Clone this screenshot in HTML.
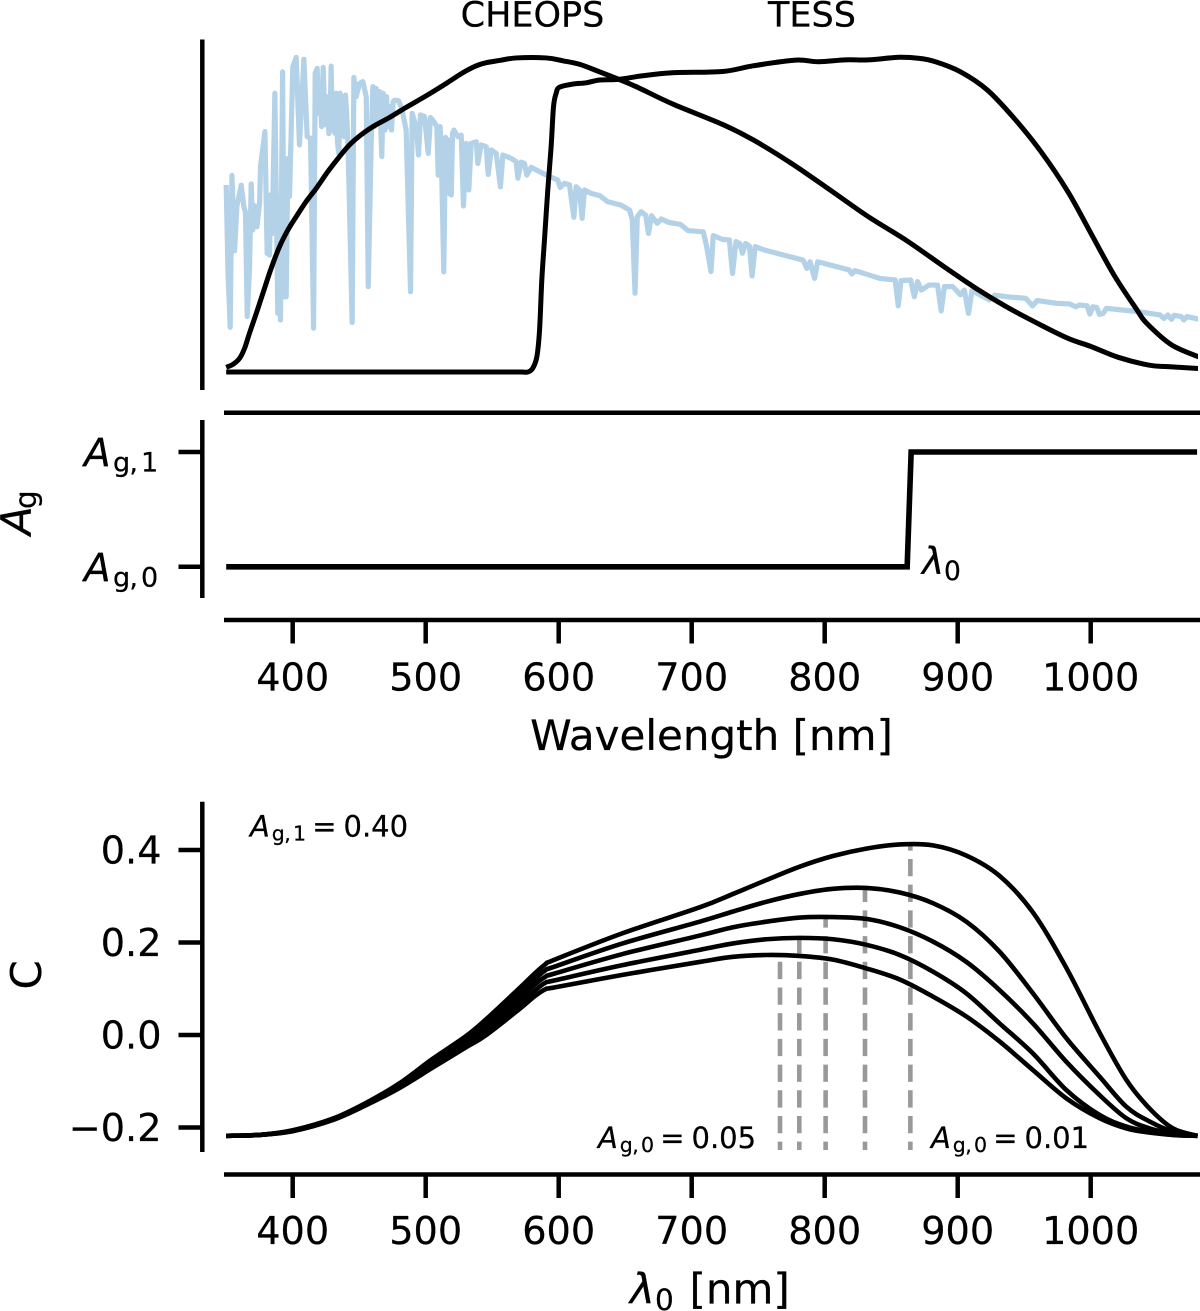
<!DOCTYPE html>
<html lang="en">
<head>
<meta charset="utf-8">
<title>Stellar spectrum, passbands and geometric albedo contrast</title>
<style>
html,body{margin:0;padding:0;background:#fff;}
svg{display:block;font-family:"DejaVu Sans","Liberation Sans",sans-serif;fill:#000;}
svg text{stroke:#000;stroke-width:.25;}
.spine{stroke:#000;stroke-width:4.5;fill:none;}
.i{font-style:italic;}
</style>
</head>
<body>
<svg id="figure" xmlns="http://www.w3.org/2000/svg" width="1200" height="1311" viewBox="0 0 1200 1311">
<defs><clipPath id="plot-clip"><rect x="222" y="0" width="976" height="1311"/></clipPath></defs>
<rect x="0" y="0" width="1200" height="1311" fill="#fff"/>

<g id="panel-top">
  <line class="spine" x1="202.3" y1="39.5" x2="202.3" y2="390"/>
  <line class="spine" x1="224" y1="412.8" x2="1200" y2="412.8"/>
  <g id="spectrum-marks" clip-path="url(#plot-clip)"></g>
  <text x="532.5" y="26.7" font-size="35" text-anchor="middle">CHEOPS</text>
  <text x="812" y="26.7" font-size="35" text-anchor="middle">TESS</text>
</g>

<g id="panel-mid">
  <line class="spine" x1="202.3" y1="420" x2="202.3" y2="598"/>
  <line class="spine" x1="224" y1="620" x2="1200" y2="620"/>
  <line class="spine" x1="178.5" y1="452" x2="202" y2="452"/>
  <line class="spine" x1="178.5" y1="566.8" x2="202" y2="566.8"/>
  <text font-size="39" y="466.5"><tspan class="i" x="84">A</tspan><tspan x="113" y="471.5" font-size="27">g</tspan><tspan x="129.4" y="471.5" font-size="27">,</tspan><tspan x="141" y="471.5" font-size="27">1</tspan></text>
  <text font-size="39" y="581.5"><tspan class="i" x="84">A</tspan><tspan x="113" y="586.5" font-size="27">g</tspan><tspan x="129.4" y="586.5" font-size="27">,</tspan><tspan x="141" y="586.5" font-size="27">0</tspan></text>
  <text transform="translate(31,535) rotate(-90)" font-size="42"><tspan class="i" x="0" y="0">A</tspan><tspan x="26" y="5" font-size="29.5">g</tspan></text>
  <g id="albedo-marks" clip-path="url(#plot-clip)"></g>
  <g id="mid-x-ticks"></g>
  <text font-size="37.5" y="574"><tspan class="i" x="922">λ</tspan><tspan x="944" y="580" font-size="26.5">0</tspan></text>
  <text x="711.5" y="750" font-size="42" text-anchor="middle">Wavelength [nm]</text>
</g>

<g id="panel-bottom">
  <line class="spine" x1="202.3" y1="801.7" x2="202.3" y2="1152"/>
  <line class="spine" x1="224" y1="1174.5" x2="1200" y2="1174.5"/>
  <g id="contrast-marks" clip-path="url(#plot-clip)"></g>
  <g id="bottom-x-ticks"></g>
  <g id="bottom-y-ticks"></g>
  <text transform="translate(41,989.5) rotate(-90)" font-size="42">C</text>
  <text font-size="42" y="1303.3"><tspan class="i" x="630">λ</tspan><tspan x="655" y="1310" font-size="29.5">0</tspan><tspan x="689.5" y="1303.3">[nm]</tspan></text>
  <text font-size="29" y="836.5"><tspan class="i" x="250">A</tspan><tspan x="271.8" y="840.5" font-size="20.5">g</tspan><tspan x="284.2" y="840.5" font-size="20.5">,</tspan><tspan x="293" y="840.5" font-size="20.5">1</tspan><tspan x="312.2" y="836.5">=</tspan><tspan x="343.5" y="836.5">0.40</tspan></text>
  <text font-size="29" y="1148"><tspan class="i" x="598">A</tspan><tspan x="619.8" y="1152" font-size="20.5">g</tspan><tspan x="632.2" y="1152" font-size="20.5">,</tspan><tspan x="641" y="1152" font-size="20.5">0</tspan><tspan x="660.2" y="1148">=</tspan><tspan x="691.5" y="1148">0.05</tspan></text>
  <text font-size="29" y="1148"><tspan class="i" x="931">A</tspan><tspan x="952.8" y="1152" font-size="20.5">g</tspan><tspan x="965.2" y="1152" font-size="20.5">,</tspan><tspan x="974" y="1152" font-size="20.5">0</tspan><tspan x="993.2" y="1148">=</tspan><tspan x="1024.5" y="1148">0.01</tspan></text>
</g>
</svg>

<script>
// ---- data ----
const xTickValues = [400, 500, 600, 700, 800, 900, 1000];
const xTickLabels = ['400', '500', '600', '700', '800', '900', '1000'];
const yTickValues = [0.4, 0.2, 0.0, -0.2];
const yTickLabels = ['0.4', '0.2', '0.0', '\u22120.2'];

const spectrumWavelength = [350,351.3,353,354.3,355.5,356.3,358,361.3,363.3,364.5,365.8,367.5,368.8,370,371.3,373.1,375.1,375.8,379.1,380.8,382.6,383.3,384.6,386.6,388.1,388.8,390.1,390.8,392.4,393.6,395.1,396.4,397.6,400.1,402.6,405.1,408.4,410.9,413.4,415.7,416.9,418.4,419.4,420.7,421.7,422.9,424.2,425.2,426.2,427.2,428.2,428.9,429.9,430.7,431.7,432.7,433.7,434.7,435.7,436.7,437.7,438.7,439.7,440.7,441.7,444.7,446,447.7,450.2,452.7,455.3,456.8,459,460.3,461.5,462.8,464,465.3,466.3,467,468,469.3,470.5,471.8,473,474.3,475.5,476.6,479.6,482.3,485.3,488.6,489.8,492.8,494.6,496.1,499.1,501.9,503.6,506.1,508.4,509.4,510.9,512.1,513.6,514.9,515.9,516.9,517.9,519.2,520.2,521.2,524.2,526.7,528.4,530.4,532.4,534.2,538,539.2,541.7,545.5,547,549.2,553,556.2,558,564.3,568,569.3,571.8,574.3,576,579.3,585.6,591.8,599.3,601.1,604.4,608.1,611.4,613.1,615.6,617.6,619.4,624.4,630.8,636.6,646.7,653.3,655.3,657.4,659.1,662,665.4,667.5,669.8,674.1,677,682.7,691.4,697.2,708.7,711,714.5,716.2,723.2,728.3,730.7,733.3,736.1,738.2,740.5,743.4,745.4,747.7,754.9,772.2,783.8,786.6,789,792.4,794.7,818.4,820.4,822.7,841.5,853,855.3,857.4,864.6,867.4,869.8,872.6,878.4,884.8,887.6,890,896.3,902.1,905,908.1,910.7,923.7,928.1,936.7,951.1,956.3,959.8,974.2,984.3,988.7,991.6,997.3,999.4,1001.7,1004.5,1006.6,1009.4,1011.8,1034.8,1052.2,1055,1058,1060.8,1062.8,1068,1070,1072.4,1081.9];
const spectrumFlux = [.594,.324,.142,.624,.493,.385,.525,.593,.525,.506,.176,.324,.597,.451,.528,.461,.535,.652,.763,.377,.371,.562,.440,.885,.408,.186,.546,.165,.953,.239,.239,.678,.557,.969,.999,.721,.993,.747,.742,.139,.948,.964,.821,.900,.779,.967,.800,.784,.874,.757,.821,.971,.768,.864,.758,.885,.726,.694,.885,.768,.874,.747,.879,.810,.705,.157,.935,.874,.916,.922,.874,.271,.726,.906,.779,.900,.789,.890,.768,.684,.885,.768,.874,.779,.842,.768,.858,.863,.861,.832,.768,.255,.821,.779,.689,.816,.811,.694,.808,.795,.779,.625,.779,.620,.318,.745,.588,.737,.567,.562,.758,.768,.747,.752,.527,.726,.578,.726,.731,.662,.721,.715,.627,.705,.694,.588,.689,.678,.668,.615,.666,.662,.625,.650,.636,.623,.609,.586,.599,.594,.491,.588,.578,.488,.578,.567,.560,.541,.530,.514,.483,.250,.493,.509,.498,.440,.496,.472,.486,.475,.469,.449,.445,.403,.319,.433,.421,.419,.313,.414,.408,.377,.408,.400,.305,.398,.387,.368,.355,.329,.350,.297,.350,.324,.311,.322,.297,.292,.210,.290,.292,.239,.287,.260,.276,.276,.194,.271,.271,.245,.260,.186,.258,.229,.244,.239,.234,.210,.227,.218,.216,.207,.213,.210,.184,.207,.205,.183,.186,.202,.192,.181,.170,.181,.167,.180,.176,.165,.176,.167];

const cheopsWavelength = [350,355,360,363.8,367.5,372.6,377.6,383.8,390.1,396.4,402.6,410.1,417.7,426.4,435.2,442.7,450.2,460.3,472.8,485.3,500.4,515.4,527.9,538,545.5,555.5,568,590.6,603.1,615.6,630.7,645.2,659.7,685.6,723.2,746.2,775.1,804,832.8,861.7,890.5,913.6,936.7,959.8,982.9,1000.2,1020.4,1043.5,1057.9,1081.9];
const cheopsThroughput = [.015,.024,.043,.075,.123,.186,.250,.329,.398,.451,.493,.541,.583,.636,.684,.721,.749,.779,.808,.840,.877,.916,.950,.972,.982,.989,.997,.997,.988,.977,.953,.929,.903,.851,.786,.737,.662,.578,.493,.417,.332,.266,.207,.155,.107,.081,.047,.022,.017,.011];

const tessWavelength = [350,450,520,550,565,572,576.8,580.5,583.6,585.6,587.3,589.3,591.8,594.3,596.1,598.1,600.6,610.6,620.7,630.7,645.2,662.5,685.6,723.2,746.2,778,795.3,815.5,832.8,855.9,870.3,883.3,902.1,922.3,942.5,962.7,982.9,1000.2,1017.5,1034.8,1042,1060.8,1081.9];
const tessThroughput = [0,0,0,0,0,0,0,.012,.049,.133,.292,.419,.578,.715,.842,.885,.904,.914,.918,.927,.929,.940,.950,.954,.972,.990,.985,.991,.991,.999,.996,.985,.953,.895,.805,.699,.572,.440,.308,.197,.155,.086,.047];

const albedoWavelength = [350, 862, 865, 1080];
const albedoLevel = [0, 0, 1, 1];

const contrastWavelength = [350,375,400,430,455,480,505,530,545,570,582,590,597,648,706,731.1,756.1,781.2,806.2,831.3,856.4,881.4,906.5,931.5,956.6,981.7,1006.7,1026.8,1044.3,1061.9,1080.4];
const contrastLow01 = [-.218,-.216,-.206,-.181,-.147,-.105,-.052,-.003,.033,.100,.133,.153,.163,.220,.276,.305,.335,.364,.387,.403,.412,.410,.388,.344,.265,.145,.005,-.097,-.159,-.202,-.218];
const contrastLow02 = [-.218,-.216,-.207,-.182,-.148,-.108,-.057,-.010,.024,.089,.121,.140,.148,.198,.245,.267,.288,.305,.316,.318,.308,.285,.245,.180,.090,-.007,-.090,-.155,-.187,-.209,-.218];
const contrastLow03 = [-.218,-.216,-.207,-.182,-.150,-.110,-.061,-.017,.015,.078,.109,.126,.133,.175,.215,.233,.245,.254,.255,.251,.233,.202,.158,.097,.025,-.058,-.130,-.180,-.202,-.213,-.218];
const contrastLow04 = [-.218,-.216,-.207,-.183,-.151,-.112,-.066,-.023,.006,.066,.096,.113,.118,.151,.184,.198,.207,.210,.207,.195,.173,.137,.090,.025,-.040,-.119,-.173,-.198,-.209,-.216,-.218];
const contrastLow05 = [-.218,-.216,-.208,-.184,-.152,-.115,-.071,-.027,-.001,.055,.084,.099,.103,.130,.158,.169,.173,.171,.163,.144,.120,.083,.040,-.014,-.076,-.137,-.180,-.202,-.211,-.216,-.218];
const transitionWavelength = [864.4, 830.3, 800.7, 780.9, 766.4];
const transitionBottom = -0.2486;

// ---- axes ----
const xAxis = w => 292.7 + (w - 400) * 1.33;
const yFlux = f => 372 - f * 315;
const yLevel = a => 566.8 - a * 114.8;
const yContrast = c => 1035 - c * 462.5;

const NS = 'http://www.w3.org/2000/svg';
function make(tag, parent, attrs) {
  const el = document.createElementNS(NS, tag);
  for (const k in attrs) el.setAttribute(k, attrs[k]);
  parent.appendChild(el);
  return el;
}
function linearPath(xs, ys, fx, fy) {
  return xs.map((x, i) => (i ? 'L' : 'M') + fx(x).toFixed(2) + ' ' + fy(ys[i]).toFixed(2)).join(' ');
}
function smoothPath(xs, ys, fx, fy) {
  const p = xs.map((x, i) => [fx(x), fy(ys[i])]);
  let d = 'M' + p[0][0].toFixed(2) + ' ' + p[0][1].toFixed(2);
  for (let i = 0; i < p.length - 1; i++) {
    const a = p[Math.max(i - 1, 0)], b = p[i], c = p[i + 1], e = p[Math.min(i + 2, p.length - 1)];
    const c1 = [b[0] + (c[0] - a[0]) / 6, b[1] + (c[1] - a[1]) / 6];
    const c2 = [c[0] - (e[0] - b[0]) / 6, c[1] - (e[1] - b[1]) / 6];
    d += ' C' + c1[0].toFixed(2) + ' ' + c1[1].toFixed(2) + ' ' + c2[0].toFixed(2) + ' ' + c2[1].toFixed(2) + ' ' + c[0].toFixed(2) + ' ' + c[1].toFixed(2);
  }
  return d;
}
function interpolate(xs, ys, x) {
  for (let i = 0; i < xs.length - 1; i++) {
    if (x >= xs[i] && x <= xs[i + 1]) return ys[i] + (ys[i + 1] - ys[i]) * (x - xs[i]) / (xs[i + 1] - xs[i]);
  }
  return ys[ys.length - 1];
}

// ---- top panel ----
const specG = document.getElementById('spectrum-marks');
const specLine = make('path', specG, {d: linearPath(spectrumWavelength, spectrumFlux, xAxis, yFlux), fill: 'none', stroke: '#b3d2e7', 'stroke-width': 5.2, 'stroke-linejoin': 'round'});


const cheopsLine = make('path', specG, {d: smoothPath(cheopsWavelength, cheopsThroughput, xAxis, yFlux), fill: 'none', stroke: '#000', 'stroke-width': 5, 'stroke-linejoin': 'round'});


const tessLine = make('path', specG, {d: smoothPath(tessWavelength, tessThroughput, xAxis, yFlux), fill: 'none', stroke: '#000', 'stroke-width': 5, 'stroke-linejoin': 'round'});



// ---- middle panel ----
const albedoLine = make('path', document.getElementById('albedo-marks'), {d: linearPath(albedoWavelength, albedoLevel, xAxis, yLevel), fill: 'none', stroke: '#000', 'stroke-width': 5.6, 'stroke-linejoin': 'miter'});



// ---- x axes ----
function drawXTicks(groupId, axisY, labelY, prefix) {
  const g = document.getElementById(groupId);
  xTickValues.forEach((v, i) => {
    const tick = make('line', g, {x1: xAxis(v), x2: xAxis(v), y1: axisY, y2: axisY + 23.5, stroke: '#000', 'stroke-width': 4.5});
    
    
    const label = make('text', g, {x: xAxis(v), y: labelY, 'font-size': 38.2, 'text-anchor': 'middle'});
    label.textContent = xTickLabels[i];
    
    
  });
}
drawXTicks('mid-x-ticks', 620, 690.5, 'albedo');
drawXTicks('bottom-x-ticks', 1174.5, 1244, 'contrast');

// ---- bottom panel ----
const yG = document.getElementById('bottom-y-ticks');
yTickValues.forEach((v, i) => {
  const tick = make('line', yG, {x1: 178.5, x2: 202, y1: yContrast(v), y2: yContrast(v), stroke: '#000', 'stroke-width': 4.5});
  
  
  const label = make('text', yG, {x: 161.5, y: yContrast(v) + 13.5, 'font-size': 38.2, 'text-anchor': 'end'});
  label.textContent = yTickLabels[i];
  
  
});

const contrastSeries = [contrastLow01, contrastLow02, contrastLow03, contrastLow04, contrastLow05];
const cG = document.getElementById('contrast-marks');
contrastSeries.forEach((series, i) => {
  const w = transitionWavelength[i];
  const dash = make('path', cG, {d: 'M' + xAxis(w) + ' ' + yContrast(transitionBottom) + ' L' + xAxis(w) + ' ' + yContrast(interpolate(contrastWavelength, series, w)), fill: 'none', stroke: '#999', 'stroke-width': 4.6, 'stroke-dasharray': '17.3 8.4', 'stroke-dashoffset': 9});
  
  
});
contrastSeries.forEach((series, i) => {
  const curve = make('path', cG, {d: smoothPath(contrastWavelength, series, xAxis, yContrast), fill: 'none', stroke: '#000', 'stroke-width': 4.6, 'stroke-linejoin': 'round'});
  
  
});
</script>
</body>
</html>
